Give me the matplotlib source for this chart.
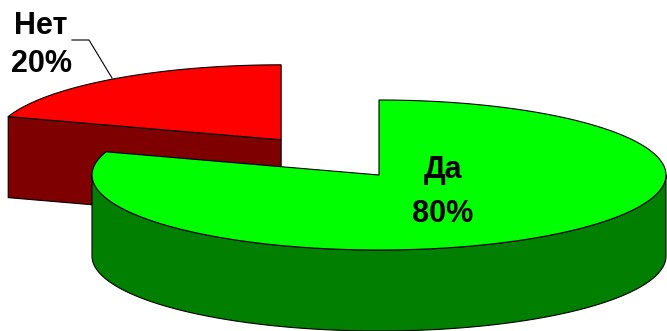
import numpy as np
import matplotlib.pyplot as plt
from matplotlib.patches import Polygon

## Data
labels = ['Да', 'Нет']
values = [80, 20]
top_colors = ['#00FF00', '#FF0000']
side_colors = ['#007F00', '#7F0000']
explode = [0.0, 0.58]

## Layout of the "3D" pie (pixels)
cx, cy = 379, 175      # centre of the top ellipse
a, b = 287, 75         # ellipse radii
depth = 81             # thickness of the pie
start = 90.0           # first slice starts at 12 o'clock, goes clockwise


def pt(x0, y0, t, dz=0):
    t = np.radians(t)
    return x0 + a * np.cos(t), y0 - b * np.sin(t) + dz


fig = plt.figure(figsize=(6.67, 3.31), dpi=100)
ax = fig.add_axes([0, 0, 1, 1])
ax.set_xlim(0, 667)
ax.set_ylim(331, 0)
ax.axis('off')

total = float(sum(values))
slices = []
ang = start
for lab, v, ex in zip(labels, values, explode):
    span = 360.0 * v / total
    # counter-clockwise range [lo, hi]
    lo, hi = ang - span, ang
    mid = np.radians((lo + hi) / 2)
    ox = cx + ex * a * np.cos(mid)
    oy = cy - ex * b * np.sin(mid)
    slices.append((lo, hi, ox, oy))
    ang = lo

# back slices first
order = sorted(range(len(values)), key=lambda i: slices[i][3])
kw = dict(edgecolor='black', linewidth=0.8, joinstyle='round')

for i in order:
    lo, hi, ox, oy = slices[i]
    # radial cut faces
    for t, vis in ((lo, np.cos(np.radians(lo)) > 1e-6),
                   (hi, np.cos(np.radians(hi)) < -1e-6)):
        if vis:
            p = pt(ox, oy, t)
            quad = [(ox, oy), p, (p[0], p[1] + depth), (ox, oy + depth)]
            ax.add_patch(Polygon(quad, closed=True, facecolor=side_colors[i], **kw))
    # outer rim, only the front half is seen
    for k in (-360, 0, 360):
        r0 = max(lo, 180 + k)
        r1 = min(hi, 360 + k)
        if r1 > r0:
            ts = np.linspace(r0, r1, 200)
            upper = [pt(ox, oy, t) for t in ts]
            lower = [pt(ox, oy, t, depth) for t in ts[::-1]]
            ax.add_patch(Polygon(upper + lower, closed=True,
                                 facecolor=side_colors[i], **kw))
    # top face
    ts = np.linspace(lo, hi, 400)
    poly = [(ox, oy)] + [pt(ox, oy, t) for t in ts]
    ax.add_patch(Polygon(poly, closed=True, facecolor=top_colors[i], **kw))

font = dict(family='Liberation Sans', fontweight='bold', fontsize=22,
            ha='center', va='baseline', color='black')

# labels
ax.text(443, 178, labels[0], **font)
ax.text(443, 222, '%d%%' % values[0], **font)
ax.text(41, 34, labels[1], **font)
ax.text(42, 72, '%d%%' % values[1], **font)

# leader line for the small slice
ax.plot([72, 89, 112], [40, 40, 78], color='black', linewidth=0.8)

fig.savefig('out.png', dpi=100)
